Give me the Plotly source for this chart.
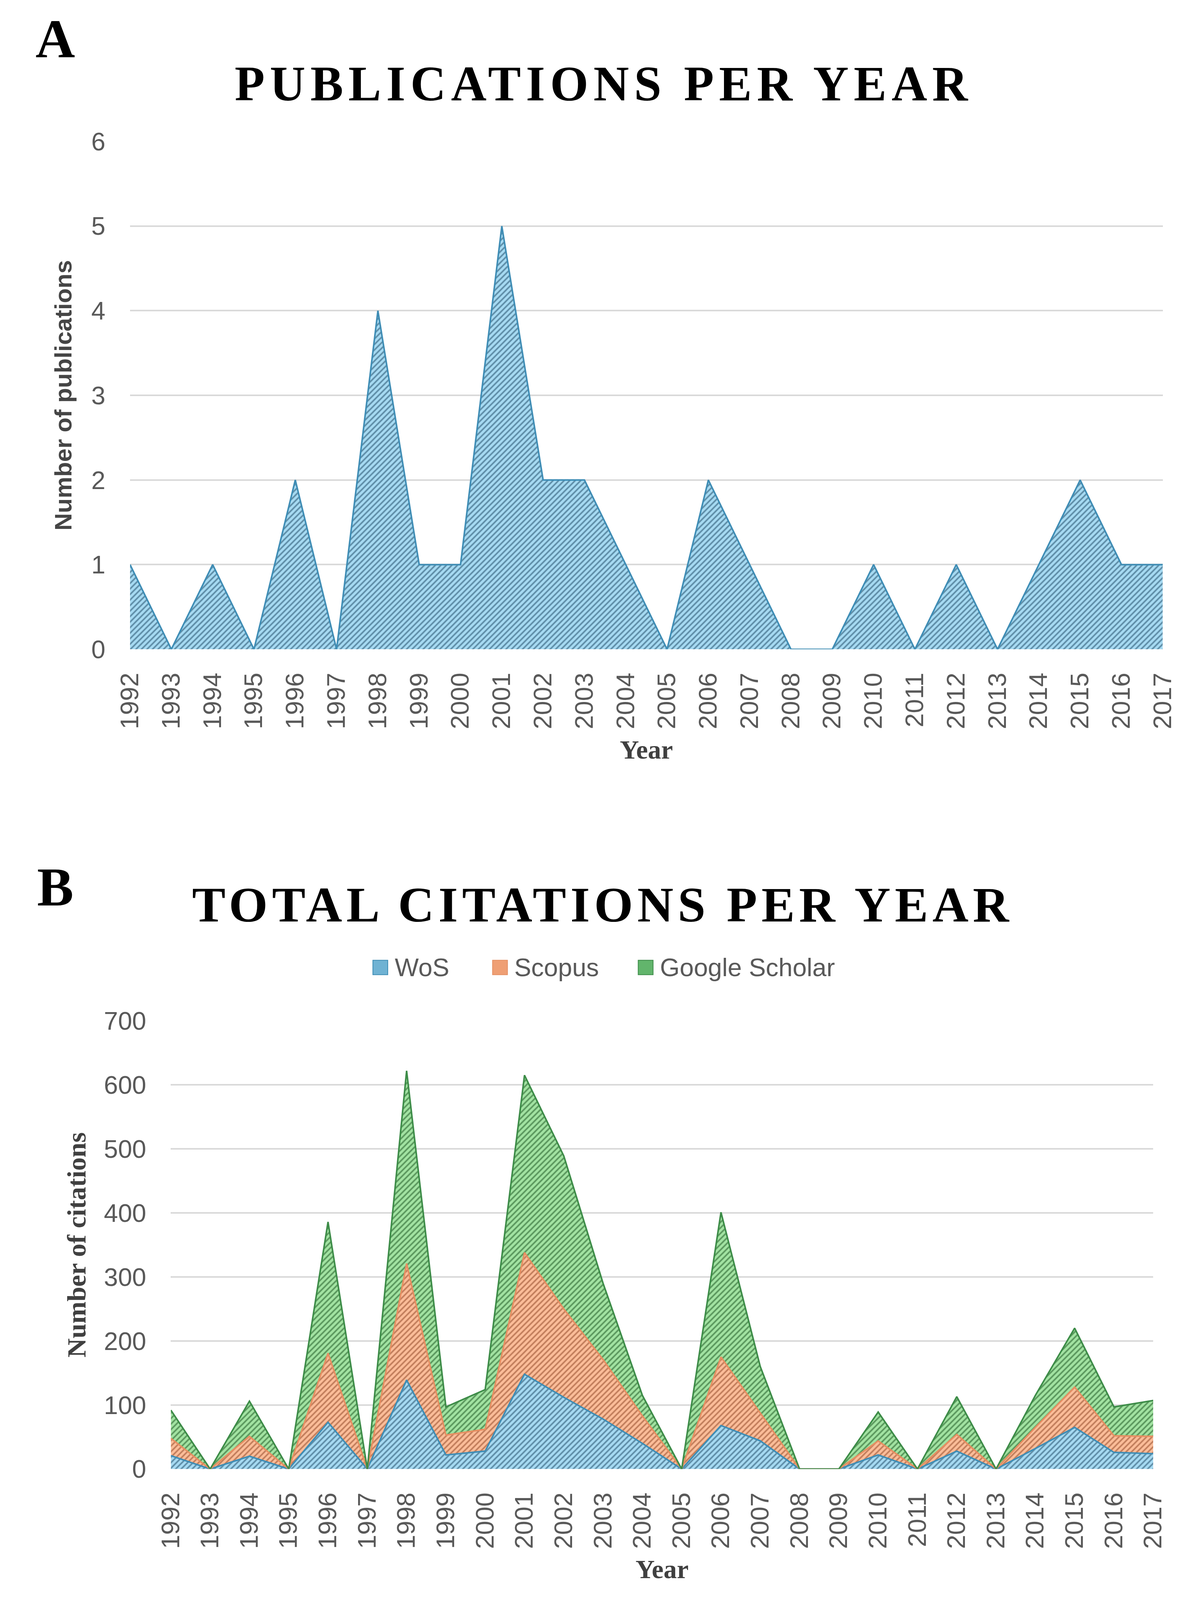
import plotly.graph_objects as go

# ---------------- data ----------------
years = list(range(1992, 2018))
year_labels = [str(y) for y in years]

publications = [1, 0, 1, 0, 2, 0, 4, 1, 1, 5, 2, 2, 1, 0, 2, 1, 0, 0, 1, 0, 1, 0, 1, 2, 1, 1]

wos = [21, 0, 20, 0, 73, 0, 139, 22, 28, 148, 112, 78, 40, 0, 68, 44, 0, 0, 22, 0, 28, 0, 32, 65, 26, 24]
scopus = [27, 0, 31, 0, 108, 0, 182, 31, 34, 190, 138, 93, 43, 0, 107, 44, 0, 0, 22, 0, 26, 0, 33, 63, 26, 27]
google_scholar = [44, 0, 55, 0, 205, 0, 301, 44, 62, 277, 239, 119, 32, 0, 226, 72, 0, 0, 45, 0, 59, 0, 50, 92, 45, 56]

series_names = ["WoS", "Scopus", "Google Scholar"]

pub_ticks = [0, 1, 2, 3, 4, 5, 6]
cit_ticks = [0, 100, 200, 300, 400, 500, 600, 700]

# ---------------- styling ----------------
W, H = 3073, 4320
# vertical placement is fitted to the area the browser actually shows
V_SCALE, V_SHIFT = 0.9646, -45

styles = {
    "WoS": dict(bg="#a6daf2", fg="#17415e", edge="#3f8db5", swatch="#6fb2d3"),
    "Scopus": dict(bg="#fbbd99", fg="#8a3f20", edge="#e58f62", swatch="#ef9f74"),
    "Google Scholar": dict(bg="#a2e3a2", fg="#144d1a", edge="#3d8c48", swatch="#62b56c"),
}


def px_x(p):
    return p / W


def px_y(p):
    return 1 - (V_SCALE * p + V_SHIFT) / H


TICK_FONT = dict(family="Liberation Sans, Arial", size=65, color="#595959")
SERIF = "Liberation Serif, Times New Roman"

fig = go.Figure()

st = styles["WoS"]
fig.add_trace(go.Scatter(
    x=years, y=publications, mode="lines", fill="tozeroy",
    line=dict(color=st["edge"], width=4),
    fillcolor=st["bg"],
    fillpattern=dict(shape="/", fgcolor=st["fg"], bgcolor=st["bg"], size=10, solidity=0.4),
    showlegend=False, xaxis="x", yaxis="y", name="Publications",
))

for name, vals in zip(series_names, [wos, scopus, google_scholar]):
    st = styles[name]
    fig.add_trace(go.Scatter(
        x=years, y=vals, mode="lines", stackgroup="cit", name=name,
        line=dict(color=st["edge"], width=4),
        fillcolor=st["bg"],
        fillpattern=dict(shape="/", fgcolor=st["fg"], bgcolor=st["bg"], size=10, solidity=0.4),
        showlegend=False, xaxis="x2", yaxis="y2",
    ))

xaxis_common = dict(
    range=[years[0], years[-1]], tickmode="array", tickvals=years, ticktext=year_labels,
    tickangle=-90, tickfont=TICK_FONT, showgrid=False, zeroline=False, showline=False,
    ticks="", ticklabelstandoff=46,
)
yaxis_common = dict(
    showgrid=True, gridcolor="#d9d9d9", gridwidth=4, zeroline=False, showline=False,
    ticks="", tickfont=TICK_FONT, tickmode="array", ticklabelstandoff=62,
)

fig.update_layout(
    width=W, height=H,
    margin=dict(l=0, r=0, t=0, b=0),
    paper_bgcolor="white", plot_bgcolor="white",
    showlegend=False,
    xaxis=dict(domain=[px_x(294), px_x(3003)], anchor="y",
               title=dict(text="<b>Year</b>", font=dict(family=SERIF, size=68, color="#404040"), standoff=28),
               **xaxis_common),
    yaxis=dict(domain=[px_y(1753), px_y(382)], anchor="x", range=[0, 6], tickvals=pub_ticks,
               title=dict(text="<b>Number of publications</b>",
                          font=dict(family="Liberation Sans, Arial", size=62, color="#454545"), standoff=30),
               **yaxis_common),
    xaxis2=dict(domain=[px_x(401), px_x(2978)], anchor="y2",
                title=dict(text="<b>Year</b>", font=dict(family=SERIF, size=68, color="#404040"), standoff=28),
                **xaxis_common),
    yaxis2=dict(domain=[px_y(3966), px_y(2756)], anchor="x2", range=[0, 700], tickvals=cit_ticks,
                title=dict(text="<b>Number of citations</b>",
                           font=dict(family=SERIF, size=68, color="#404040"), standoff=24),
                **yaxis_common),
)

annotations = [
    dict(text="<b>A</b>", x=px_x(98), y=px_y(105), xref="paper", yref="paper",
         showarrow=False, xanchor="center", yanchor="middle",
         font=dict(family=SERIF, size=140, color="black")),
    dict(text="<b>B</b>", x=px_x(98), y=px_y(2395), xref="paper", yref="paper",
         showarrow=False, xanchor="center", yanchor="middle",
         font=dict(family=SERIF, size=140, color="black")),
    dict(text='<b><span style="letter-spacing:13px">PUBLICATIONS PER YEAR</span></b>',
         x=px_x(1536), y=px_y(226), xref="paper", yref="paper",
         showarrow=False, xanchor="center", yanchor="middle",
         font=dict(family=SERIF, size=126, color="black")),
    dict(text='<b><span style="letter-spacing:11px">TOTAL CITATIONS PER YEAR</span></b>',
         x=px_x(1534), y=px_y(2442), xref="paper", yref="paper",
         showarrow=False, xanchor="center", yanchor="middle",
         font=dict(family=SERIF, size=128, color="black")),
]

# legend for chart B (built from the series names)
legend_cy = 2612
swatch = 39
swatch_left = [931, 1245, 1627]
shapes = []
for name, sl in zip(series_names, swatch_left):
    st = styles[name]
    shapes.append(dict(type="rect", xref="paper", yref="paper",
                       x0=px_x(sl), x1=px_x(sl + swatch),
                       y0=px_y(legend_cy + swatch / 2), y1=px_y(legend_cy - swatch / 2),
                       fillcolor=st["swatch"], line=dict(color=st["edge"], width=2)))
    annotations.append(dict(text=name, x=px_x(sl + swatch + 16), y=px_y(legend_cy),
                            xref="paper", yref="paper", showarrow=False,
                            xanchor="left", yanchor="middle",
                            font=dict(family="Liberation Sans, Arial", size=65, color="#595959")))

fig.update_layout(annotations=annotations, shapes=shapes)

fig.write_html("out.html")
